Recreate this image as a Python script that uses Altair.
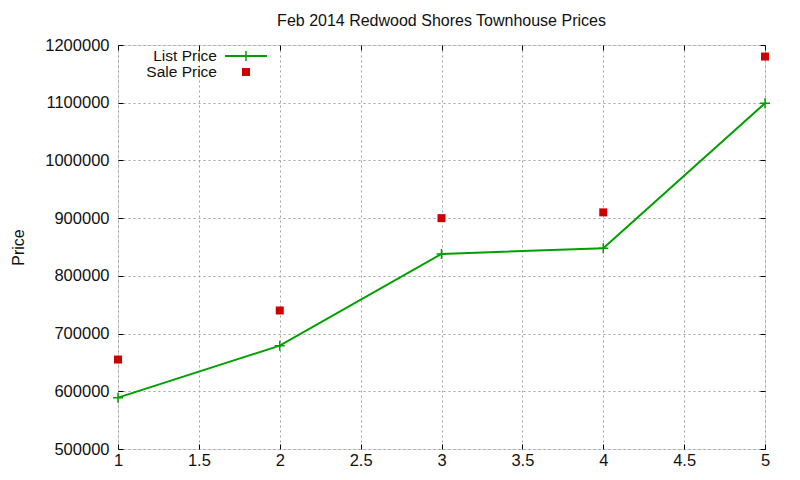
import altair as alt
import pandas as pd

# Data
count = [1, 2, 3, 4, 5]
list_price = [589000, 679000, 838000, 848000, 1099000]
sale_price = [655000, 740000, 900000, 910000, 1180000]
x_ticks = [1, 1.5, 2, 2.5, 3, 3.5, 4, 4.5, 5]
y_ticks = [500000, 600000, 700000, 800000, 900000, 1000000, 1100000, 1200000]
legend_labels = ["List Price", "Sale Price"]
chart_title = ["Feb 2014 Redwood Shores Townhouse Prices"]

df = pd.DataFrame({"x": count, "list": list_price, "sale": sale_price})

GREEN = "#00a000"
RED = "#cc0000"
FONT = "Liberation Sans"
TXT = "#111"
PLUS = "M-1,0L1,0M0,-1L0,1"

xscale = alt.Scale(domain=[1, 5], nice=False, zero=False)
yscale = alt.Scale(domain=[500000, 1200000], nice=False, zero=False)

x_bottom = alt.Axis(
    orient="bottom", values=x_ticks, format="~g", grid=True, domain=False,
    tickSize=5, offset=-5, tickColor="black", labelPadding=3,
    labelFontSize=16.5, labelFont=FONT, labelColor=TXT, title=None,
    gridColor="#a0a0a0", gridDash=[2, 3], labelFlush=False,
)
y_left = alt.Axis(
    orient="left", values=y_ticks, format="d", grid=True, domain=False,
    tickSize=5, offset=-5, tickColor="black", labelPadding=9,
    labelFontSize=16.5, labelFont=FONT, labelColor=TXT,
    title="Price", titleFont=FONT, titleFontSize=16, titleFontWeight="normal",
    titleColor=TXT, titleAngle=270, titleX=-105, titleY=202,
    titleAlign="center", titleBaseline="middle",
    gridColor="#a0a0a0", gridDash=[2, 3],
)
x_top = alt.Axis(
    orient="top", values=x_ticks, grid=False, domain=False, labels=False,
    tickSize=5, offset=-5, tickColor="black", title=None,
)
y_right = alt.Axis(
    orient="right", values=y_ticks, grid=False, domain=False, labels=False,
    tickSize=5, offset=-5, tickColor="black", title=None,
)

list_layer = alt.Chart(df).mark_line(
    color=GREEN, strokeWidth=2,
    point=alt.OverlayMarkDef(shape=PLUS, filled=False, size=100,
                             stroke=GREEN, strokeWidth=1.5),
).encode(
    x=alt.X("x:Q", scale=xscale, axis=x_bottom),
    y=alt.Y("list:Q", scale=yscale, axis=y_left),
)

sale_layer = alt.Chart(df).mark_point(
    shape="square", filled=True, size=64, color=RED, opacity=1,
).encode(
    x=alt.X("x:Q", scale=xscale, axis=x_top),
    y=alt.Y("sale:Q", scale=yscale, axis=y_right),
)

# Title as a text mark above the plot area
title_mark = alt.Chart(pd.DataFrame({"t": chart_title})).mark_text(
    align="center", baseline="alphabetic", fontSize=16, font=FONT, color=TXT,
).encode(text="t:N", x=alt.value(323.5), y=alt.value(-19))

# Legend (gnuplot style: label right-aligned, sample to the right)
leg1_text = alt.Chart(pd.DataFrame({"t": [legend_labels[0]]})).mark_text(
    align="right", baseline="alphabetic", fontSize=15.5, font=FONT, color=TXT,
).encode(text="t:N", x=alt.value(99), y=alt.value(15.5))
leg2_text = alt.Chart(pd.DataFrame({"t": [legend_labels[1]]})).mark_text(
    align="right", baseline="alphabetic", fontSize=15.5, font=FONT, color=TXT,
).encode(text="t:N", x=alt.value(99), y=alt.value(31.5))
leg1_line = alt.Chart(pd.DataFrame({"t": [legend_labels[0]]})).mark_rule(
    color=GREEN, strokeWidth=2,
).encode(x=alt.value(107), x2=alt.value(149), y=alt.value(11))
leg1_pt = alt.Chart(pd.DataFrame({"t": [legend_labels[0]]})).mark_point(
    shape=PLUS, filled=False, size=100, stroke=GREEN, strokeWidth=1.5, opacity=1,
).encode(x=alt.value(128), y=alt.value(11))
leg2_pt = alt.Chart(pd.DataFrame({"t": [legend_labels[1]]})).mark_point(
    shape="square", filled=True, size=64, color=RED, opacity=1,
).encode(x=alt.value(128), y=alt.value(27))

chart = alt.layer(
    list_layer, sale_layer, title_mark,
    leg1_text, leg2_text, leg1_line, leg1_pt, leg2_pt,
).resolve_axis(
    x="independent", y="independent",
).properties(
    width=647, height=404,
    autosize=alt.AutoSizeParams(type="none"),
    padding={"left": 110, "top": 37, "right": 27, "bottom": 23},
).configure_view(
    stroke="black", strokeWidth=1,
).configure(background="white")

chart.save("out.html", embed_options={"renderer": "svg", "actions": False})
